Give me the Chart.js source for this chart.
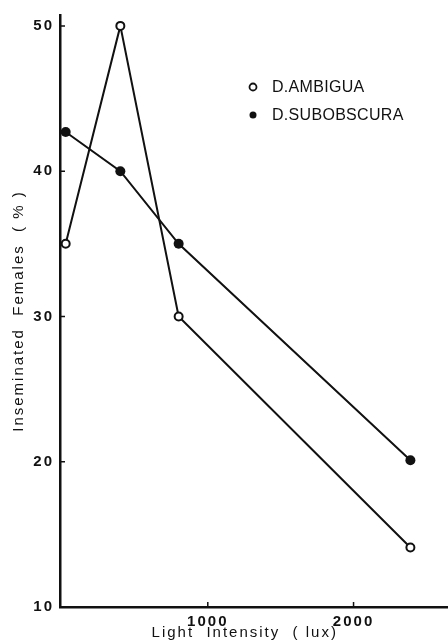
<!DOCTYPE html>
<html>
<head>
<meta charset="utf-8">
<script src="https://cdn.jsdelivr.net/npm/chart.js@4.4.0/dist/chart.umd.min.js"></script>
<style>
    html, body { margin: 0; padding: 0; background: #fff; }
    #wrap { width: 448px; height: 642px; position: relative; }
</style>
</head>
<body>
<div id="wrap"><canvas id="chart"></canvas></div>
<script>
// inseminated females vs light intensity

const lightLux = [25, 400, 800, 2390];
const ambigua = [35, 50, 30, 14.1];
const subobscura = [42.7, 40, 35, 20.1];
const xTicks = [1000, 2000];
const yTicks = [10, 20, 30, 40, 50];

const seriesNames = ['D.AMBIGUA', 'D.SUBOBSCURA'];

const FONT = '"Liberation Sans", Arial, sans-serif';

function toPoints(values) {
    return lightLux.map((x, i) => ({ x: x, y: values[i] }));
}

// legend drawn in the upper right of the plot, like the original figure
const legendPlugin = {
    id: 'figLegend',
    afterDatasetsDraw(chart) {
        const ctx = chart.ctx;
        const area = chart.chartArea;
        ctx.save();
        ctx.letterSpacing = '0.3px';
        ctx.font = '16px ' + FONT;
        ctx.textBaseline = 'middle';
        chart.data.datasets.forEach((ds, i) => {
            const y = area.top + 72 + i * 28;
            const cx = area.left + 193;
            ctx.beginPath();
            ctx.arc(cx, y, 3.5, 0, Math.PI * 2);
            if (ds.pointBackgroundColor === '#fff') {
                ctx.fillStyle = '#fff';
                ctx.fill();
                ctx.lineWidth = 1.8;
                ctx.strokeStyle = '#111';
                ctx.stroke();
            } else {
                ctx.fillStyle = '#111';
                ctx.fill();
            }
            ctx.fillStyle = '#111';
            ctx.fillText(ds.label, cx + 19, y + 1);
        });
        ctx.restore();
    }
};

// short tick marks pointing into the plot
const innerTicks = {
    id: 'innerTicks',
    afterDraw(chart) {
        const ctx = chart.ctx;
        const xs = chart.scales.x;
        const ys = chart.scales.y;
        const area = chart.chartArea;
        ctx.save();
        ctx.strokeStyle = '#111';
        ctx.lineWidth = 1.5;
        ctx.beginPath();
        yTicks.forEach(v => {
            const py = ys.getPixelForValue(v);
            ctx.moveTo(area.left, py);
            ctx.lineTo(area.left + 5, py);
        });
        xTicks.forEach(v => {
            const px = xs.getPixelForValue(v);
            ctx.moveTo(px, area.bottom);
            ctx.lineTo(px, area.bottom - 5);
        });
        ctx.stroke();
        ctx.restore();
    }
};

const spacingPlugin = {
    id: 'spacing',
    beforeDraw(chart) {
        chart.ctx.letterSpacing = '2px';
    }
};

const ctx = document.getElementById('chart').getContext('2d');

new Chart(ctx, {
    type: 'scatter',
    data: {
        datasets: [
            {
                label: seriesNames[0],
                data: toPoints(ambigua),
                showLine: true,
                borderColor: '#111',
                borderWidth: 2,
                pointRadius: 4,
                pointBorderWidth: 2,
                pointBackgroundColor: '#fff',
                pointBorderColor: '#111'
            },
            {
                label: seriesNames[1],
                data: toPoints(subobscura),
                showLine: true,
                borderColor: '#111',
                borderWidth: 2,
                pointRadius: 5,
                pointBorderWidth: 0,
                pointBackgroundColor: '#111',
                pointBorderColor: '#111'
            }
        ]
    },
    options: {
        responsive: true,
        maintainAspectRatio: false,
        animation: false,
        layout: {
            autoPadding: false,
            padding: { top: 11, right: 0, bottom: 0, left: 0 }
        },
        plugins: {
            legend: { display: false },
            tooltip: { enabled: false }
        },
        scales: {
            x: {
                type: 'linear',
                min: -14,
                max: 2648,
                afterBuildTicks(scale) {
                    scale.ticks = xTicks.map(v => ({ value: v }));
                },
                afterFit(scale) {
                    scale.height = 35;
                },
                border: { display: true, color: '#111', width: 2.5 },
                grid: { drawOnChartArea: false, drawTicks: false },
                ticks: {
                    color: '#111',
                    padding: 6,
                    callback: v => String(v),
                    font: { family: FONT, size: 15, weight: 'bold' }
                },
                title: {
                    display: true,
                    text: 'Light  Intensity  ( lux)   ',
                    color: '#111',
                    padding: { top: 0, bottom: 0 },
                    font: { family: FONT, size: 15 }
                }
            },
            y: {
                type: 'linear',
                min: 10,
                max: 50.75,
                afterBuildTicks(scale) {
                    scale.ticks = yTicks.map(v => ({ value: v }));
                },
                afterFit(scale) {
                    scale.width = 60;
                },
                border: { display: true, color: '#111', width: 2.5 },
                grid: { drawOnChartArea: false, drawTicks: false },
                ticks: {
                    color: '#111',
                    padding: 6,
                    font: { family: FONT, size: 15, weight: 'bold' }
                },
                title: {
                    display: true,
                    text: 'Inseminated  Females  ( % )',
                    color: '#111',
                    padding: { top: 10, bottom: 0 },
                    font: { family: FONT, size: 15 }
                }
            }
        }
    },
    plugins: [spacingPlugin, innerTicks, legendPlugin]
});
</script>
</body>
</html>
